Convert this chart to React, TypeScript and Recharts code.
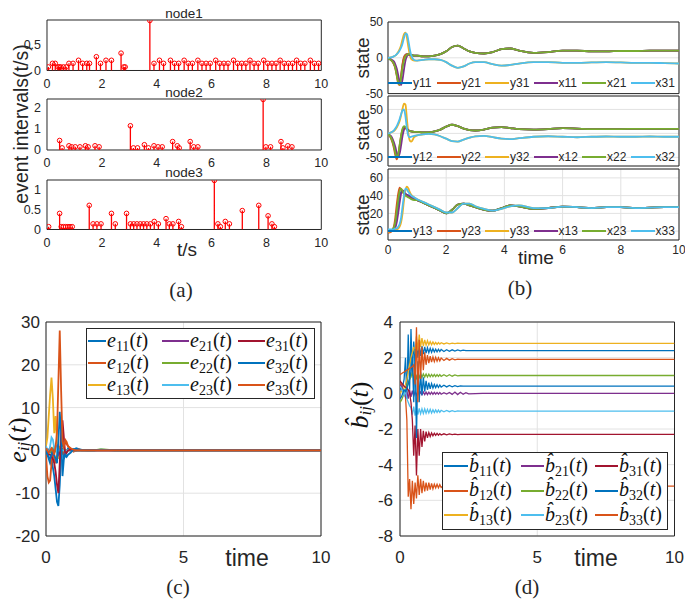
import React from 'react';
import { ComposedChart, LineChart, Line, Scatter, XAxis, YAxis, CartesianGrid, ReferenceArea, Legend } from 'recharts';

// ---------------- data: panel (a) event intervals ----------------
const node1T = [0.05,0.2,0.3,0.4,0.45,0.5,0.6,0.7,0.8,0.95,1.15,1.3,1.45,1.55,1.8,1.95,2.15,2.35,2.7,2.8,2.85,3.75,3.9,4.1,4.25,4.5,4.65,4.8,5.0,5.15,5.3,5.5,5.65,5.8,5.95,6.15,6.3,6.45,6.6,6.8,6.95,7.1,7.25,7.4,7.55,7.7,7.9,8.05,8.2,8.35,8.5,8.65,8.8,8.95,9.1,9.25,9.4,9.6,9.75,9.9];
const node1V = [0.07,0.14,0.14,0.07,0.07,0.07,0.07,0.07,0.14,0.14,0.2,0.14,0.14,0.14,0.27,0.14,0.2,0.2,0.34,0.07,0.07,0.98,0.14,0.2,0.14,0.2,0.14,0.14,0.2,0.14,0.14,0.2,0.14,0.14,0.14,0.2,0.14,0.14,0.14,0.2,0.14,0.14,0.14,0.2,0.14,0.14,0.2,0.14,0.14,0.14,0.2,0.14,0.14,0.14,0.2,0.14,0.14,0.2,0.14,0.14];
const node2T = [0.46,0.55,0.8,0.9,1.03,1.2,1.4,1.5,1.75,1.9,3.04,3.15,3.3,3.55,3.7,3.9,4.05,4.2,4.58,4.75,4.82,5.22,5.35,5.5,7.88,7.98,8.15,8.53,8.6,8.78,8.93];
const node2V = [0.45,0.1,0.2,0.15,0.15,0.15,0.2,0.15,0.2,0.15,1.15,0.1,0.1,0.25,0.1,0.2,0.15,0.15,0.4,0.2,0.1,0.4,0.15,0.15,2.4,0.15,0.15,0.4,0.1,0.2,0.15];
const node3T = [0.06,0.46,0.52,0.6,0.68,0.76,0.84,0.92,1.54,1.68,1.82,1.97,2.35,2.49,2.9,3.04,3.16,3.28,3.4,3.52,3.64,3.77,3.91,4.06,4.34,4.46,4.59,4.8,4.9,6.1,6.23,6.32,6.5,6.65,7.12,7.72,8.06,8.2,8.29];
const node3V = [0.07,0.4,0.07,0.07,0.07,0.07,0.07,0.07,0.6,0.14,0.14,0.14,0.4,0.14,0.4,0.14,0.14,0.14,0.14,0.14,0.14,0.14,0.2,0.14,0.27,0.14,0.14,0.2,0.07,1.22,0.14,0.07,0.2,0.14,0.47,0.6,0.34,0.14,0.07];
const tickA = [0, 2, 4, 6, 8, 10];

// ---------------- data: panel (b) states ----------------
const tBHead = [0,0.1,0.2,0.25,0.3,0.35,0.4,0.45,0.5,0.55,0.6,0.65,0.7,0.75,0.8,0.9];
const tBTail = [1.0,1.2,1.4,1.6,1.8,2.0,2.2,2.4,2.6,2.8,3.0,3.3,3.6,3.9,4.2,4.5,5.0,5.5,6.0,6.5,7.0,7.5,8.0,8.5,9.0,9.5,10];

const b1y11 = [-1,-3,-8,-13,-22,-32,-36,-26,-10,0,4,5,5,4,4,3];
const b1y21 = [-1,-3,-9,-15,-25,-36,-38,-24,-8,1,4,5,5,4,4,3];
const b1y31 = [0,0.5,2,3,5,8,12,18,26,33,35,28,15,4,-2,-4];
const b1x11 = [-1,-2,-5,-9,-15,-24,-34,-38,-30,-16,-4,2,4,4,4,3];
const b1x21 = [-1,-3,-8,-14,-24,-34,-37,-28,-14,-4,2,4,5,5,4,3];
const b1x31 = [0,0.5,2,3,5,7,10,14,20,28,34,33,24,12,3,-3];
const b1Tail = [3,2,2,3,5,9,15,17,13,9,7,6,8,12,13,10,7,8,10,10,9,9,9.5,9.5,10,10,10];
const b1TailC = [-4,-3,-2,-2,-3,-6,-11,-14,-12,-8,-6,-6,-9,-11,-10,-8,-6,-6,-7,-7,-6.5,-6,-6.5,-7,-7,-7.5,-8];

const b2y12 = [-2,-8,-25,-38,-48,-46,-30,-10,5,12,12,9,6,5,4,3];
const b2y22 = [-2,-10,-30,-45,-54,-45,-25,-5,8,13,11,8,6,5,4,3];
const b2y32 = [0,2,5,8,12,18,26,38,52,62,60,30,0,-15,-17,-8];
const b2x12 = [-2,-5,-18,-28,-40,-48,-42,-25,-5,8,12,10,7,5,4,3];
const b2x22 = [-2,-8,-26,-40,-50,-44,-24,-4,10,15,13,9,6,5,4,3];
const b2x32 = [0,2,6,10,15,22,30,40,48,50,35,10,-5,-8,-7,-5];
const b2Tail = [3,2,2,4,8,14,18,15,10,7,6,8,12,13,11,9,8,9,11,10,9,9,9,9.5,9.5,9.5,9.5];
const b2TailC = [-4,-2,-1,-2,-6,-11,-16,-17,-13,-9,-6,-5,-8,-11,-12,-10,-7,-6,-7,-8,-7,-6.5,-7,-7,-6.5,-7,-7];

const b3y13 = [0,1,3,8,18,30,40,44,45,44,42,41,40,39,38,36];
const b3y23 = [-2,-1,5,15,30,42,49,47,44,42,41,40,39,38,37,36];
const b3y33 = [-1,0,1,1,2,3,5,10,20,35,46,50,48,44,41,38];
const b3x13 = [0,1,2,4,10,20,32,42,46,44,42,41,40,39,38,36];
const b3x23 = [0,1,4,10,22,35,45,48,45,42,40,39,38,37,36,35];
const b3x33 = [2,2,2,3,3,5,8,15,28,40,48,47,44,42,40,38];
const b3TailA = [35,32,29,26,23,20,24,30,31,29,27,24,23,26,29,28,25,26,27.5,27,26,27,27,26,26.5,27,27];
const b3TailB = [36,33,30,27,24,21,21,26,31,31,28,25,23,25,28,29,26,26,27.5,27,26,27,27,26,26.5,27,27];
const tickB = [0, 2, 4, 6, 8, 10];

// ---------------- data: panel (c) errors ----------------
const tC = [0,0.05,0.1,0.15,0.2,0.25,0.3,0.35,0.4,0.45,0.5,0.55,0.6,0.65,0.7,0.75,0.8,0.9,1.0,1.1,1.2,1.3,1.5,1.75,2,2.5,3,4,5,6,7,8,9,10];
const e11 = [0,-1,-2,-3,-2,-4,-6,-9,-12,-13,-8,0,3,-2,-1,-0.5,0.5,0.3,0.2,0.5,0.3,0.1,0,0,0.1,0,0,0,0,0,0,0,0,0];
const e12 = [-1,-6,-7.5,-7,-3,0,-2,-3,-1,0,-1,2,-1,1,2,1.5,1,0.3,-0.3,0,0.2,0,0,0,0,0,0,0,0,0,0,0,0,0];
const e13 = [1,3,8,13,17,12,4,8,2,-2,1,0,0.5,0,0.2,0,0,0,0,0,0,0,0,0,0,0,0,0,0,0,0,0,0,0];
const e21 = [0.5,0.3,0.2,0,-0.5,-1,-0.5,0.5,1,-1,-0.5,0,0.3,0,0,0,0,0,0,0,0,0,0,0,0,0,0,0,0,0,0,0,0,0];
const e22 = [0.5,0.2,-0.3,-0.5,0,0.5,-0.3,0,-0.5,0.5,0,0.2,0,0.1,0,0,0,0,0,0,0,0,0,0,0.3,0,0,0,0,0,0,0,0,0];
const e23 = [1,0,-1,1,3,2.5,0.5,1,-0.5,0.5,0,0.3,0,0,0,0,0,0,0,0,0,0,0,0,0.2,0,0,0,0,0,0,0,0,0];
const e31 = [0,-0.5,-1,-1,-1.5,-2,-3,-5,-8,-10,-3,4,7,3,-1,-0.5,0,0.2,0,0,0,0,0,0,0,0,0,0,0,0,0,0,0,0];
const e32 = [0,-1,-1.5,-2,-1,0,-1,-2,-3,2,9,4,-6,-2,-1,-1.5,-1,-0.5,0.3,0,0,0,0,0,0,0,0,0,0,0,0,0,0,0];
const e33 = [0.5,0,-0.5,0,0.5,0,-1,1,4,16,28,14,2,1,2.5,2,1,0.5,0.2,0,0,0,0,0,0,0,0,0,0,0,0,0,0,0];

// ---------------- data: panel (d) estimates ----------------
const tD = [0,0.05,0.1,0.15,0.2,0.25,0.3,0.35,0.4,0.45,0.5,0.55,0.6,0.65,0.7,0.75,0.8,0.85,0.9,0.95,1.0,1.05,1.1,1.15,1.2,1.25,1.3,1.35,1.4,1.45,1.5,1.6,1.7,1.8,1.9,2.0,2.1,2.2,2.3,2.4,2.5,3,4,5,6,7,8,9,10];
const h11 = [0.3,0.2,0.4,0.8,2.0,-0.3,3.3,0.2,3.6,1.0,2.9,1.8,2.8,2.0,2.7,2.1,2.65,2.2,2.6,2.25,2.55,2.28,2.52,2.3,2.5,2.32,2.48,2.33,2.47,2.34,2.46,2.35,2.45,2.36,2.44,2.37,2.43,2.38,2.42,2.39,2.4,2.4,2.4,2.4,2.4,2.4,2.4,2.4,2.4];
const h12 = [0.7,0.5,0.3,0.1,-0.2,-1.5,-5.8,-4.8,-6.5,-4.9,-6.2,-5.0,-5.9,-4.6,-5.7,-4.8,-5.6,-4.9,-5.5,-5.0,-5.45,-5.0,-5.4,-5.05,-5.35,-5.1,-5.3,-5.1,-5.3,-5.12,-5.28,-5.14,-5.26,-5.16,-5.24,-5.18,-5.22,-5.19,-5.21,-5.2,-5.2,-5.2,-5.2,-5.2,-5.2,-5.2,-5.2,-5.2,-5.2];
const h13 = [0,0.1,0.2,0.3,0.5,0.8,1.2,1.6,2.0,2.3,2.6,2.2,3.2,2.4,3.3,2.6,3.1,2.65,3.0,2.7,2.95,2.72,2.9,2.73,2.88,2.74,2.86,2.75,2.85,2.76,2.84,2.77,2.83,2.78,2.82,2.79,2.81,2.8,2.8,2.8,2.8,2.8,2.8,2.8,2.8,2.8,2.8,2.8,2.8];
const h21 = [0.5,0.4,0.2,0,-0.2,0.1,-0.3,0.2,-0.2,0.15,-0.15,0.1,-0.1,0.1,-0.08,0.08,-0.08,0.08,-0.07,0.07,-0.07,0.06,-0.06,0.06,-0.06,0.05,-0.05,0.05,-0.05,0.05,-0.05,0.04,-0.04,0.05,-0.06,0.07,-0.07,0.06,-0.05,0.04,-0.03,0,0,0,0,0,0,0,0];
const h22 = [-0.5,-0.4,-0.2,0,0.2,0.4,0.6,0.8,0.9,1.2,0.8,1.15,0.85,1.12,0.88,1.1,0.9,1.09,0.91,1.08,0.92,1.07,0.93,1.06,0.94,1.06,0.94,1.05,0.95,1.05,0.95,1.04,0.96,1.04,0.96,1.03,0.98,1,1,1,1,1,1,1,1,1,1,1,1];
const h23 = [0.4,0.3,0.1,-0.1,0.2,-0.3,-0.5,-0.7,-0.8,-1.2,-0.75,-1.25,-0.8,-1.2,-0.85,-1.15,-0.87,-1.13,-0.88,-1.12,-0.9,-1.1,-0.9,-1.1,-0.92,-1.08,-0.93,-1.07,-0.94,-1.06,-0.95,-1.04,-0.96,-1.03,-0.97,-1.02,-0.98,-1,-1,-1,-1,-1,-1,-1,-1,-1,-1,-1,-1];
const h31 = [0.7,0.6,0.5,0.4,0.35,0.3,0.2,0,-0.5,-1.5,-3.5,-1.8,-4.6,-2.0,-3.5,-2.0,-3.0,-2.1,-2.7,-2.15,-2.5,-2.2,-2.42,-2.22,-2.38,-2.24,-2.36,-2.25,-2.35,-2.26,-2.34,-2.27,-2.33,-2.28,-2.32,-2.29,-2.31,-2.3,-2.3,-2.3,-2.3,-2.3,-2.3,-2.3,-2.3,-2.3,-2.3,-2.3,-2.3];
const h32 = [-0.3,-0.2,0,0.2,0.1,0.3,0.5,0.8,1.2,2.0,-0.5,2.5,-2.5,1.8,-0.5,1.2,-0.1,0.9,0.1,0.7,0.2,0.6,0.25,0.55,0.3,0.5,0.32,0.48,0.33,0.47,0.35,0.45,0.36,0.44,0.37,0.43,0.38,0.42,0.4,0.4,0.4,0.4,0.4,0.4,0.4,0.4,0.4,0.4,0.4];
const h33 = [1.05,1.1,1.15,1.2,1.25,1.3,1.35,1.4,1.45,1.5,1.6,0.5,3.7,-0.5,3.0,0.8,2.6,1.3,2.3,1.6,2.15,1.7,2.08,1.75,2.04,1.78,2.02,1.8,2.0,1.82,1.98,1.84,1.96,1.86,1.94,1.88,1.92,1.9,1.9,1.9,1.9,1.9,1.9,1.9,1.9,1.9,1.9,1.9,1.9];

// ---------------- styling ----------------
const FONT = "'Liberation Sans', Arial, Helvetica, sans-serif";
const SERIF = "'Liberation Serif', 'Times New Roman', serif";
const AX = '#262626';
const GRID = '#e2e2e2';
const COL = { blue: '#0072BD', orange: '#D95319', yellow: '#EDB120', purple: '#7E2F8E', green: '#77AC30', cyan: '#4DBEEE', red: '#A2142F' };
const SIX = [COL.blue, COL.orange, COL.yellow, COL.purple, COL.green, COL.cyan];
const NINE = [COL.blue, COL.orange, COL.yellow, COL.purple, COL.green, COL.cyan, COL.red, COL.blue, COL.orange];

type Rect = { l: number; t: number; r: number; b: number };
const MT = 10, MR = 10;
const dims = (rc: Rect, yw: number, xh: number) => ({
  width: rc.r - rc.l + yw + MR,
  height: rc.b - rc.t + xh + MT,
  margin: { top: MT, right: MR, bottom: 0, left: 0 },
});
const Pos = ({ rc, yw, children }: any) => (
  <div style={{ position: 'absolute', left: rc.l - yw, top: rc.t - MT }}>{children}</div>
);

function rows(ts: number[], series: Record<string, number[]>) {
  return ts.map((t, i) => {
    const r: any = { t };
    for (const k in series) r[k] = series[k][i];
    return r;
  });
}
const stemRows = (ts: number[], vs: number[]) => ts.flatMap((t, i) => [{ t, v: 0 }, { t, v: vs[i] }, { t, v: null }]);
const pts = (ts: number[], vs: number[]) => ts.map((t, i) => ({ t, v: vs[i] }));

const StemCircle = (p: any) => <circle cx={p.cx} cy={p.cy} r={2.3} fill="none" stroke="#FF0000" strokeWidth={1} />;

// ---------------- panel (a) ----------------
const A_RECTS: Rect[] = [
  { l: 46.7, t: 19.5, r: 321, b: 70 },
  { l: 46.7, t: 99, r: 321, b: 150 },
  { l: 46.7, t: 179.5, r: 321, b: 229 },
];
const A_DATA = [
  { T: node1T, V: node1V, top: 0.99, ticks: [0, 0.5] },
  { T: node2T, V: node2V, top: 2.42, ticks: [0, 1, 2] },
  { T: node3T, V: node3V, top: 1.23, ticks: [0, 0.5, 1] },
];

function StemPanel({ idx }: { idx: number }) {
  const rc = A_RECTS[idx];
  const d = A_DATA[idx];
  const yw = 44, xh = 26;
  return (
    <Pos rc={rc} yw={yw}>
      <ComposedChart {...dims(rc, yw, xh)}>
        <XAxis dataKey="t" type="number" domain={[0, 10]} ticks={tickA} interval={0} allowDataOverflow axisLine={false} tickLine={false} tickSize={0} tickMargin={8.5} height={xh} tick={{ fontSize: 12.5, fill: AX, fontFamily: FONT }} />
        <YAxis dataKey="v" type="number" domain={[0, d.top]} ticks={d.ticks} interval={0} allowDataOverflow axisLine={false} tickLine={false} tickSize={0} tickMargin={6} width={yw} tick={{ fontSize: 12.5, fill: AX, fontFamily: FONT }} />
        <Line data={stemRows(d.T, d.V)} dataKey="v" type="linear" stroke="#FF0000" strokeWidth={1.3} dot={false} connectNulls={false} isAnimationActive={false} />
        <Scatter data={pts(d.T, d.V)} dataKey="v" shape={StemCircle} isAnimationActive={false} />
        <ReferenceArea x1={0} x2={10} y1={0} y2={d.top} fill="none" stroke={AX} strokeWidth={1} ifOverflow="visible" />
      </ComposedChart>
    </Pos>
  );
}

// ---------------- panel (b) ----------------
const B_RECTS: Rect[] = [
  { l: 388, t: 21.7, r: 679, b: 93.3 },
  { l: 388, t: 96, r: 679, b: 166 },
  { l: 388, t: 169, r: 679, b: 240 },
];
const tB = [...tBHead, ...tBTail];
const B_SERIES = [
  { names: ['y11', 'y21', 'y31', 'x11', 'x21', 'x31'], vals: [[...b1y11, ...b1Tail], [...b1y21, ...b1Tail], [...b1y31, ...b1TailC], [...b1x11, ...b1Tail], [...b1x21, ...b1Tail], [...b1x31, ...b1TailC]], dom: [-50, 50], ticks: [-50, 0, 50], leg: 82.7 },
  { names: ['y12', 'y22', 'y32', 'x12', 'x22', 'x32'], vals: [[...b2y12, ...b2Tail], [...b2y22, ...b2Tail], [...b2y32, ...b2TailC], [...b2x12, ...b2Tail], [...b2x22, ...b2Tail], [...b2x32, ...b2TailC]], dom: [-68, 78], ticks: [-50, 0, 50], leg: 157.3 },
  { names: ['y13', 'y23', 'y33', 'x13', 'x23', 'x33'], vals: [[...b3y13, ...b3TailA], [...b3y23, ...b3TailA], [...b3y33, ...b3TailB], [...b3x13, ...b3TailA], [...b3x23, ...b3TailA], [...b3x33, ...b3TailB]], dom: [-10, 70], ticks: [0, 20, 40, 60], leg: 231.3 },
];

const rowLegend = (names: string[]) => (props: any) => {
  const items = [...(props.payload || [])].sort((a: any, b: any) => names.indexOf(a.value) - names.indexOf(b.value));
  return (
    <div style={{ display: 'flex', width: '100%', height: 14 }}>
      {items.map((it: any) => (
        <div key={it.value} style={{ display: 'flex', alignItems: 'center', width: 48.5, height: 14 }}>
          <span style={{ display: 'inline-block', width: 24, height: 2, background: it.color, marginRight: 1 }} />
          <span style={{ fontFamily: FONT, fontSize: 12, color: AX, lineHeight: '14px' }}>{it.value}</span>
        </div>
      ))}
    </div>
  );
};

function StatePanel({ idx }: { idx: number }) {
  const rc = B_RECTS[idx];
  const s = B_SERIES[idx];
  const yw = 44;
  const last = idx === 2;
  const xh = last ? 22 : 12;
  const series: Record<string, number[]> = {};
  s.names.forEach((n, i) => { series[n] = s.vals[i]; });
  const data = rows(tB, series);
  return (
    <Pos rc={rc} yw={yw}>
      <LineChart data={data} {...dims(rc, yw, xh)}>
        <CartesianGrid stroke={GRID} strokeWidth={1} />
        <XAxis dataKey="t" type="number" domain={[0, 10]} ticks={tickB} interval={0} allowDataOverflow axisLine={false} tickLine={false} tickSize={0} tickMargin={5.5} height={xh} tick={last ? { fontSize: 12, fill: AX, fontFamily: FONT } : false} />
        <YAxis type="number" domain={s.dom} ticks={s.ticks} interval={0} allowDataOverflow axisLine={false} tickLine={false} tickSize={0} tickMargin={5} width={yw} tick={{ fontSize: 12, fill: AX, fontFamily: FONT }} />
        {s.names.map((n, i) => (
          <Line key={n} dataKey={n} name={n} type="monotone" stroke={SIX[i]} strokeWidth={1.8} dot={false} isAnimationActive={false} />
        ))}
        <ReferenceArea x1={0} x2={10} y1={s.dom[0]} y2={s.dom[1]} fill="none" stroke={AX} strokeWidth={1} ifOverflow="visible" />
        <Legend layout="horizontal" verticalAlign="middle" align="center" content={rowLegend(s.names)}
          wrapperStyle={{ left: yw, top: s.leg - rc.t + MT - 7, width: 291, height: 14 }} />
      </LineChart>
    </Pos>
  );
}

// ---------------- panels (c), (d) ----------------
const mathLegend = (letter: string, names: string[], colW: number[], lineW: number[], rowH: number, padTop: number) => (props: any) => {
  const items = [...(props.payload || [])].sort((a: any, b: any) => names.indexOf(a.value) - names.indexOf(b.value));
  return (
    <div style={{ border: `1px solid ${AX}`, background: '#fff', boxSizing: 'border-box', width: '100%', height: '100%', paddingTop: padTop, paddingLeft: 1,
      display: 'grid', gridTemplateColumns: colW.map(w => w + 'px').join(' '), gridTemplateRows: `repeat(3, ${rowH}px)`, gridAutoFlow: 'column' }}>
      {items.map((it: any, i: number) => (
        <div key={it.value + i} style={{ display: 'flex', alignItems: 'center', height: rowH }}>
          <span style={{ display: 'inline-block', width: lineW[Math.floor(i / 3)], height: 2, background: it.color, marginRight: 1 }} />
          <span style={{ fontFamily: SERIF, fontSize: 20, color: '#111', whiteSpace: 'nowrap', lineHeight: '20px' }}>
            <i>{letter}</i><span style={{ fontSize: 14, position: 'relative', top: 4 }}>{it.value}</span>(<i>t</i>)
          </span>
        </div>
      ))}
    </div>
  );
};

const C_RECT: Rect = { l: 46, t: 322, r: 321, b: 536 };
const D_RECT: Rect = { l: 400, t: 322, r: 674.5, b: 536 };
const C_NAMES = ['11', '12', '13', '21', '22', '23', '31', '32', '33'];
const C_VALS = [e11, e12, e13, e21, e22, e23, e31, e32, e33];
const D_VALS = [h11, h12, h13, h21, h22, h23, h31, h32, h33];

function ErrPanel() {
  const rc = C_RECT, yw = 44, xh = 40;
  const series: Record<string, number[]> = {};
  C_NAMES.forEach((n, i) => { series['e' + n] = C_VALS[i]; });
  const data = rows(tC, series);
  return (
    <Pos rc={rc} yw={yw}>
      <LineChart data={data} {...dims(rc, yw, xh)}>
        <CartesianGrid stroke={GRID} strokeWidth={1} />
        <XAxis dataKey="t" type="number" domain={[0, 10]} ticks={[0, 5, 10]} interval={0} allowDataOverflow axisLine={false} tickLine={false} tickSize={0} tickMargin={15} height={xh} tick={{ fontSize: 17, fill: AX, fontFamily: FONT }} />
        <YAxis type="number" domain={[-20, 30]} ticks={[-20, -10, 0, 10, 20, 30]} interval={0} allowDataOverflow axisLine={false} tickLine={false} tickSize={0} tickMargin={6} width={yw} tick={{ fontSize: 17, fill: AX, fontFamily: FONT }} />
        {C_NAMES.map((n, i) => (
          <Line key={n} dataKey={'e' + n} name={n} type="linear" stroke={NINE[i]} strokeWidth={1.8} dot={false} isAnimationActive={false} />
        ))}
        <ReferenceArea x1={0} x2={10} y1={-20} y2={30} fill="none" stroke={AX} strokeWidth={1} ifOverflow="visible" />
        <Legend layout="horizontal" verticalAlign="middle" align="center" content={mathLegend('e', C_NAMES, [74, 76, 77], [18, 27, 27], 22, 1)}
          wrapperStyle={{ left: 86 - rc.l + yw, top: 328 - rc.t + MT, width: 229, height: 71 }} />
      </LineChart>
    </Pos>
  );
}

function EstPanel() {
  const rc = D_RECT, yw = 44, xh = 40;
  const series: Record<string, number[]> = {};
  C_NAMES.forEach((n, i) => { series['b' + n] = D_VALS[i]; });
  const data = rows(tD, series);
  return (
    <Pos rc={rc} yw={yw}>
      <LineChart data={data} {...dims(rc, yw, xh)}>
        <CartesianGrid stroke={GRID} strokeWidth={1} />
        <XAxis dataKey="t" type="number" domain={[0, 10]} ticks={[0, 5, 10]} interval={0} allowDataOverflow axisLine={false} tickLine={false} tickSize={0} tickMargin={15} height={xh} tick={{ fontSize: 17, fill: AX, fontFamily: FONT }} />
        <YAxis type="number" domain={[-8, 4]} ticks={[-8, -6, -4, -2, 0, 2, 4]} interval={0} allowDataOverflow axisLine={false} tickLine={false} tickSize={0} tickMargin={7} width={yw} tick={{ fontSize: 17, fill: AX, fontFamily: FONT }} />
        {C_NAMES.map((n, i) => (
          <Line key={n} dataKey={'b' + n} name={n} type="linear" stroke={NINE[i]} strokeWidth={1.3} dot={false} isAnimationActive={false} />
        ))}
        <ReferenceArea x1={0} x2={10} y1={-8} y2={4} fill="none" stroke={AX} strokeWidth={1} ifOverflow="visible" />
        <Legend layout="horizontal" verticalAlign="middle" align="center" content={mathLegend('b\u0302', C_NAMES, [77, 74, 73], [24, 23, 23], 24.5, 1)}
          wrapperStyle={{ left: 442 - rc.l + yw, top: 452 - rc.t + MT, width: 226, height: 78 }} />
      </LineChart>
    </Pos>
  );
}

function Labels() {
  const t = (x: number, y: number, s: string, size: number, rot = false, family = FONT) => (
    <text x={x} y={y} transform={rot ? `rotate(-90 ${x} ${y})` : undefined} textAnchor="middle" dominantBaseline="central" fontFamily={family} fontSize={size} fill={AX}>{s}</text>
  );
  return (
    <svg width={685} height={601} style={{ position: 'absolute', left: 0, top: 0, pointerEvents: 'none' }}>
      {t(184, 13, 'node1', 13.5)}
      {t(184, 92.5, 'node2', 13.5)}
      {t(184, 172, 'node3', 13.5)}
      {t(21, 124, 'event intervals(t/s)', 19.5, true)}
      {t(187, 249, 't/s', 19)}
      {t(362, 58, 'state', 19, true)}
      {t(362, 130, 'state', 19, true)}
      {t(362, 215, 'state', 19, true)}
      {t(536, 257, 'time', 19)}
      {t(247, 558, 'time', 23)}
      {t(596, 558, 'time', 23)}
      {t(181, 290, '(a)', 21, false, SERIF)}
      {t(520, 288, '(b)', 21, false, SERIF)}
      {t(178, 587, '(c)', 21, false, SERIF)}
      {t(527, 587, '(d)', 21, false, SERIF)}
      <text x={17} y={440} transform="rotate(-90 17 440)" textAnchor="middle" dominantBaseline="central" fontFamily={SERIF} fontSize={26} fill="#111">
        <tspan fontStyle="italic">e</tspan><tspan fontStyle="italic" fontSize={17} dy={6}>ij</tspan><tspan dy={-6}>(</tspan><tspan fontStyle="italic">t</tspan><tspan>)</tspan>
      </text>
      <text x={359} y={405} transform="rotate(-90 359 405)" textAnchor="middle" dominantBaseline="central" fontFamily={SERIF} fontSize={26} fill="#111">
        <tspan fontStyle="italic">{'b\u0302'}</tspan><tspan fontStyle="italic" fontSize={17} dy={6}>ij</tspan><tspan dy={-6}>(</tspan><tspan fontStyle="italic">t</tspan><tspan>)</tspan>
      </text>
    </svg>
  );
}

export default function App() {
  return (
    <div style={{ position: 'absolute', left: 0, top: 0, width: 685, height: 601, overflow: 'hidden', background: '#fff' }}>
      <StemPanel idx={0} />
      <StemPanel idx={1} />
      <StemPanel idx={2} />
      <StatePanel idx={0} />
      <StatePanel idx={1} />
      <StatePanel idx={2} />
      <ErrPanel />
      <EstPanel />
      <Labels />
    </div>
  );
}
